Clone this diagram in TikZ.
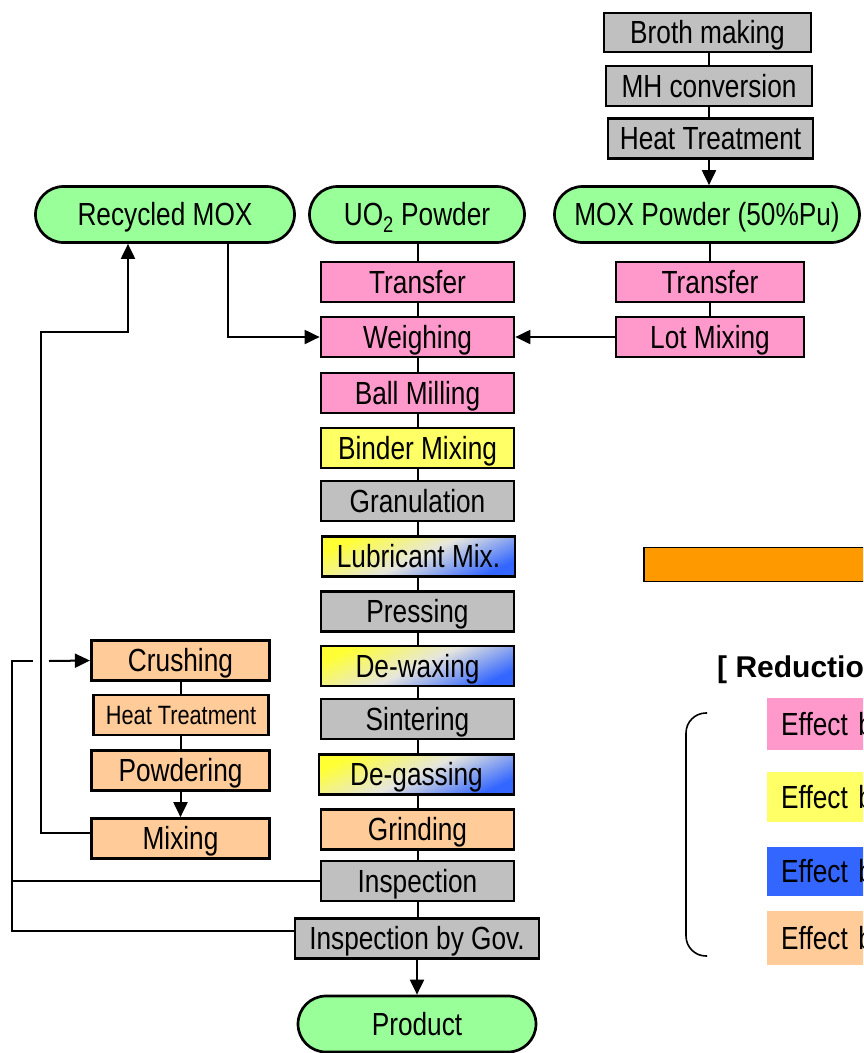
\documentclass[tikz,border=0pt]{standalone}
\usepackage{fontspec}
\setmainfont{Liberation Sans}[FakeStretch=0.82]
\newfontfamily\widesans{Liberation Sans}
\usetikzlibrary{arrows.meta}

\definecolor{pinkf}{HTML}{FF99CC}
\definecolor{yellowf}{HTML}{FFFF66}
\definecolor{grayf}{HTML}{C0C0C0}
\definecolor{peachf}{HTML}{FFCC99}
\definecolor{greenf}{HTML}{99FF99}
\definecolor{orangef}{HTML}{FF9900}
\definecolor{bluef}{HTML}{3366FF}
\definecolor{gradyel}{HTML}{FFFF33}
\definecolor{gradmid}{HTML}{E6E6DE}

\tikzset{
  box/.style={draw=black, line width=2.7pt, inner sep=0pt,
    minimum height=40pt, minimum width=193pt,
    text height=22.5pt, text depth=0pt,
    font=\fontsize{32}{37}\selectfont},
  smallbox/.style={box, text height=19pt, font=\fontsize{26.5}{30}\selectfont},
  term/.style={box, fill=greenf, rounded corners=28pt, minimum height=56pt},
  grad/.style={box, shading=axis, top color=gradyel, bottom color=bluef,
    middle color=gradmid, shading angle=25},
  legend/.style={anchor=west, inner sep=0pt, inner xsep=14pt, text width=180pt,
    align=left, text height=22.5pt, text depth=0pt,
    font=\fontsize{32}{37}\selectfont},
  link/.style={line width=2pt},
  arr/.style={link, -{Triangle[length=15pt,width=14pt]}}
}

\begin{document}
\begin{tikzpicture}[x=1pt, y=-1pt]
\useasboundingbox (0,0) rectangle (863,1053);
\clip (0,0) rectangle (863,1053);

% --- MOX powder preparation (right column)
\node[box, fill=grayf, minimum width=207pt, minimum height=39pt] (broth) at (707.5,32.5) {Broth making};
\node[box, fill=grayf, minimum width=206pt, minimum height=40pt] (mhc) at (709,86) {MH conversion};
\node[box, fill=grayf, minimum width=205pt, minimum height=40pt] (heatA) at (710.5,138.5) {Heat Treatment};

% --- feed materials
\node[term, minimum width=259pt] (recmox) at (165,214.5) {Recycled MOX};
\node[term, minimum width=215pt] (uo2) at (417,214.5) {UO\textsubscript{2} Powder};
\node[term, minimum width=305pt] (moxp) at (707,214.5) {MOX Powder (50\%Pu)};

\node[box, fill=pinkf, minimum width=188pt] (transB) at (710,282) {Transfer};
\node[box, fill=pinkf, minimum width=188pt] (lot) at (710,337) {Lot Mixing};

% --- main pellet line
\node[box, fill=pinkf] (transA) at (417.5,282) {Transfer};
\node[box, fill=pinkf] (weigh) at (417.5,337) {Weighing};
\node[box, fill=pinkf] (ball) at (417.5,393) {Ball Milling};
\node[box, fill=yellowf] (binder) at (417.5,448) {Binder Mixing};
\node[box, fill=grayf] (gran) at (417.5,501) {Granulation};
\node[grad] (lub) at (418.5,556.5) {Lubricant Mix.};
\node[box, fill=grayf] (press) at (417.5,611.5) {Pressing};
\node[grad] (dewax) at (417.5,666) {De-waxing};
\node[box, fill=grayf] (sinter) at (417.5,719) {Sintering};
\node[grad, minimum width=195pt] (degas) at (416.5,774.5) {De-gassing};
\node[box, fill=peachf] (grind) at (417.5,829.5) {Grinding};
\node[box, fill=grayf] (insp) at (417.5,881) {Inspection};
\node[box, fill=grayf, minimum width=244pt] (gov) at (417,938.5) {Inspection by Gov.};
\node[term, minimum width=238pt] (product) at (417,1024) {Product};

% --- scrap recycling line (left column)
\node[box, fill=peachf, minimum width=178.5pt] (crush) at (180.5,660.5) {Crushing};
\node[smallbox, fill=peachf, minimum width=175.5pt] (heatB) at (181,715) {Heat Treatment};
\node[box, fill=peachf, minimum width=178.5pt] (powd) at (180.5,770.5) {Powdering};
\node[box, fill=peachf, minimum width=178.5pt] (mix) at (180.5,838.5) {Mixing};

% --- right-hand panel
\node[draw=black, line width=1.5pt, fill=orangef, inner sep=0pt,
      minimum width=230pt, minimum height=34pt, anchor=west] (bar) at (643,564.5) {};
\node[anchor=base west, inner sep=0pt, font=\widesans\bfseries\fontsize{30}{35}\selectfont]
  (title) at (717,677) {[ Reduction};
\node[legend, fill=pinkf, minimum height=52pt] (legA) at (767,724) {Effect by};
\node[legend, fill=yellowf, minimum height=50pt] (legB) at (767,797) {Effect by};
\node[legend, fill=bluef, minimum height=49pt] (legC) at (767,871.5) {Effect by};
\node[legend, fill=peachf, minimum height=54pt] (legD) at (767,938) {Effect by};
\draw[line width=1.6pt, rounded corners=20pt] (707,713) -- (686,713) -- (686,956) -- (707,956);

% --- connectors: MOX powder preparation
\draw[link] (mhc.north |- broth.south) -- (mhc.north);
\draw[link] (mhc.north |- mhc.south) -- (mhc.north |- heatA.north);
\draw[arr] (mhc.north |- heatA.south) -- (mhc.north |- moxp.north);
\draw[link] (transB.north |- moxp.south) -- (transB.north);
\draw[link] (transB.south) -- (lot.north);
\draw[arr] (lot.west) -- (weigh.east);

% --- connectors: main line
\draw[link] (transA.north |- uo2.south) -- (transA.north);
\draw[link] (transA) -- (weigh);
\draw[link] (weigh) -- (ball);
\draw[link] (ball) -- (binder);
\draw[link] (binder) -- (gran);
\draw[link] (gran.south) -- (gran.south |- lub.north);
\draw[link] (gran.south |- lub.south) -- (press.north);
\draw[link] (press) -- (dewax);
\draw[link] (dewax) -- (sinter);
\draw[link] (sinter.south) -- (sinter.south |- degas.north);
\draw[link] (sinter.south |- degas.south) -- (grind.north);
\draw[link] (grind) -- (insp);
\draw[link] (insp.south) -- (insp.south |- gov.north);
\draw[arr] (gov.south) -- (product.north);
\draw[arr] ([xshift=63pt]recmox.south) |- (weigh.west);

% --- connectors: recycling line
\draw[link] (heatB.north |- crush.south) -- (heatB.north);
\draw[link] (heatB.south) -- (heatB.south |- powd.north);
\draw[arr] (powd.south) -- (mix.north);
\coordinate (loopA) at (41,332);
\draw[arr] ([yshift=6pt]mix.west) -| (loopA) -| ([xshift=-37pt]recmox.south);
\coordinate (feedL) at (12,661);
\coordinate (gapA) at (33,661);
\coordinate (gapB) at (49,661);
\draw[link] ([yshift=8pt]gov.west) -| (feedL) -- (gapA);
\draw[link] (insp.west) -- (insp.west -| feedL);
\draw[arr] (gapB) -- (crush.west);
\end{tikzpicture}
\end{document}
